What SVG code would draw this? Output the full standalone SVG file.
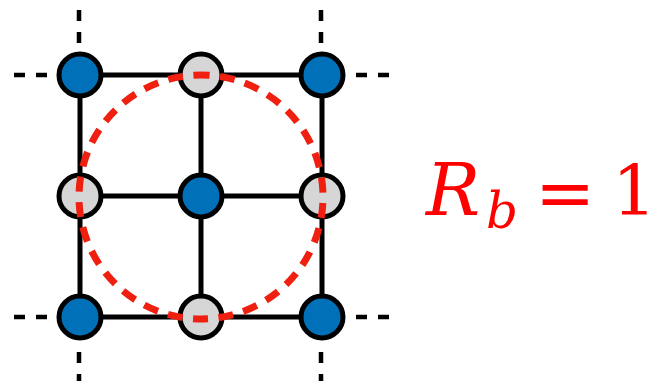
<svg xmlns="http://www.w3.org/2000/svg" width="660" height="381" viewBox="0 0 660 381">
<style>
.edge{stroke:#000;stroke-width:5;fill:none}
.dash{stroke:#000;stroke-width:4.5;stroke-dasharray:11 11;fill:none}
.blue{fill:#0070b8;stroke:#000;stroke-width:5}
.gray{fill:#d6d6d6;stroke:#000;stroke-width:5}
.ring{fill:none;stroke:#f02010;stroke-width:7;stroke-dasharray:15 10.5}
.math{fill:#ff0000;font-family:"DejaVu Serif",serif}
</style>
<rect width="660" height="381" fill="#fff"/>
<g id="connectors">
<line class="edge" x1="80" y1="75" x2="322" y2="75"/>
<line class="edge" x1="80" y1="196" x2="322" y2="196"/>
<line class="edge" x1="80" y1="317" x2="322" y2="317"/>
<line class="edge" x1="80" y1="75" x2="80" y2="317"/>
<line class="edge" x1="201" y1="75" x2="201" y2="317"/>
<line class="edge" x1="322" y1="75" x2="322" y2="317"/>
<line class="dash" x1="14" y1="75" x2="48" y2="75"/>
<line class="dash" x1="14" y1="317" x2="48" y2="317"/>
<line class="dash" x1="356" y1="75" x2="390" y2="75"/>
<line class="dash" x1="356" y1="317" x2="390" y2="317"/>
<line class="dash" x1="79" y1="10" x2="79" y2="43"/>
<line class="dash" x1="321" y1="10" x2="321" y2="43"/>
<line class="dash" x1="79" y1="352" x2="79" y2="395"/>
<line class="dash" x1="321" y1="352" x2="321" y2="395"/>
</g>
<g id="n00"><circle class="blue" cx="80" cy="75" r="21"/></g>
<g id="n01"><circle class="gray" cx="201" cy="75" r="21"/></g>
<g id="n02"><circle class="blue" cx="322" cy="75" r="21"/></g>
<g id="n10"><circle class="gray" cx="80" cy="196" r="21"/></g>
<g id="n11"><circle class="blue" cx="201" cy="196" r="21"/></g>
<g id="n12"><circle class="gray" cx="322" cy="196" r="21"/></g>
<g id="n20"><circle class="blue" cx="80" cy="317" r="21"/></g>
<g id="n21"><circle class="gray" cx="201" cy="317" r="21"/></g>
<g id="n22"><circle class="blue" cx="322" cy="317" r="21"/></g>
<g id="ring"><circle class="ring" cx="201" cy="197" r="122" transform="rotate(-93 201 197)"/></g>
<g id="label">
<text class="math" x="426" y="215" font-size="72" font-style="italic">R</text>
<text class="math" x="486" y="228" font-size="50" font-style="italic">b</text>
<text class="math" x="535" y="218" font-size="72">=</text>
<text class="math" x="612" y="215" font-size="70">1</text>
</g>
</svg>
